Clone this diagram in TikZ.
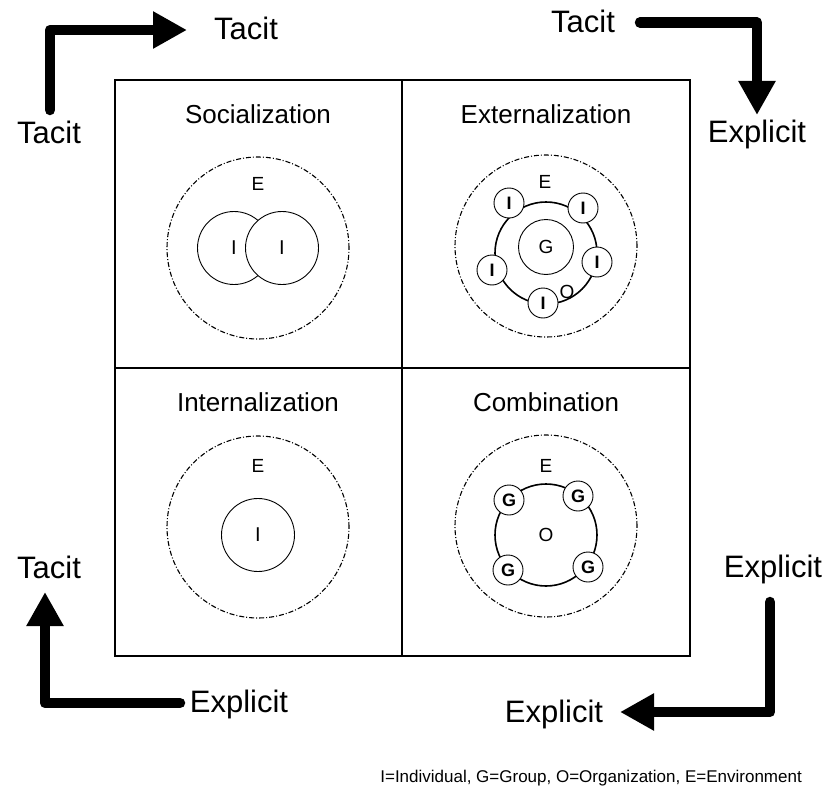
\documentclass[tikz,border=0pt]{standalone}
\usepackage{fontspec}
\setmainfont{Liberation Sans}
\usetikzlibrary{arrows.meta}
\begin{document}
\begin{tikzpicture}[x=1pt,y=-1pt,
  big/.style={font=\fontsize{31}{36}\selectfont, anchor=base, inner sep=0pt},
  ttl/.style={font=\fontsize{26}{30}\selectfont, anchor=base, inner sep=0pt},
  lbl/.style={font=\fontsize{19}{22}\selectfont, inner sep=0pt},
  elbl/.style={font=\fontsize{19}{22}\selectfont, anchor=base, inner sep=0pt},
  env/.style={circle, draw, line width=1.1pt, dash pattern=on 5pt off 2pt on 1pt off 2pt, minimum size=182pt, inner sep=0pt},
  ind/.style={circle, draw, fill=white, line width=0.9pt, minimum size=73pt, inner sep=0pt, font=\fontsize{20}{24}\selectfont},
  org/.style={circle, draw, line width=1.6pt, minimum size=102pt, inner sep=0pt, font=\fontsize{19}{22}\selectfont},
  grp/.style={circle, draw, line width=0.9pt, minimum size=55pt, inner sep=0pt, font=\fontsize{19}{22}\selectfont},
  small/.style={circle, draw, fill=white, line width=0.9pt, minimum size=30pt, inner sep=0pt, font=\bfseries\fontsize{18}{20}\selectfont},
  bigarrow/.style={line width=10.5pt, line cap=round, line join=round, -{Triangle[length=34pt,width=35pt]}},
  frame/.style={line width=1.1pt}]
\useasboundingbox (0,0) rectangle (825,800);

% grid
\draw[frame] (115,80) rectangle (690,656);
\draw[frame] (402,80) -- (402,656);
\draw[frame] (115,368) -- (690,368);

% titles
\node[ttl] (t1) at (258,123) {Socialization};
\node[ttl] (t2) at (546,123) {Externalization};
\node[ttl] (t3) at (258,411) {Internalization};
\node[ttl] (t4) at (546,411) {Combination};

% Socialization
\node[env] (e1) at (258,248) {};
\node[elbl] (e1l) at (258,190) {E};
\node[ind] (s1) at (234,248) {I};
\node[ind] (s2) at (282,248) {I};

% Externalization
\node[env] (e2) at (546,246) {};
\node[elbl] (e2l) at (545,188) {E};
\node[org] (o2) at (546,253) {};
\node[grp] (g2) at (546,247) {G};
\node[lbl] (o2l) at (567,292) {O};
\node[small] (x1) at (509,203) {I};
\node[small] (x2) at (583,208) {I};
\node[small] (x3) at (597,262) {I};
\node[small] (x4) at (543,303) {I};
\node[small] (x5) at (492,270) {I};

% Internalization
\node[env] (e3) at (258,527) {};
\node[elbl] (e3l) at (258,472) {E};
\node[ind] (i3) at (258,535) {I};

% Combination
\node[env] (e4) at (546,526) {};
\node[elbl] (e4l) at (546,472) {E};
\node[org] (o4) at (546,535) {O};
\node[small] (c1) at (509,500) {G};
\node[small] (c2) at (578,496) {G};
\node[small] (c3) at (508,570) {G};
\node[small] (c4) at (588,567) {G};

% outer labels
\node[big] (tacA) at (246,40) {Tacit};
\node[big] (tacB) at (49,143) {Tacit};
\node[big] (tacC) at (583,33) {Tacit};
\node[big] (expA) at (757,142) {Explicit};
\node[big] (tacD) at (49,578) {Tacit};
\node[big] (expB) at (239,712) {Explicit};
\node[big] (expC) at (773,577) {Explicit};
\node[big] (expD) at (554,722) {Explicit};

% arrows
\coordinate (a1s) at (50,110);
\coordinate (a1e) at (187,30);
\coordinate (a2s) at (640,22.5);
\coordinate (a2e) at (757,115);
\coordinate (a3s) at (180,703);
\coordinate (a3e) at (45,592);
\coordinate (a4s) at (770,602);
\coordinate (a4e) at (620,712);
\draw[bigarrow] (a1s) |- (a1e);
\draw[bigarrow] (a2s) -| (a2e);
\draw[bigarrow] (a3s) -| (a3e);
\draw[bigarrow] (a4s) |- (a4e);

% legend
\node[font=\fontsize{17}{20}\selectfont, anchor=base east, inner sep=0pt] (leg) at (802,782) {I=Individual, G=Group, O=Organization, E=Environment};
\end{tikzpicture}
\end{document}
